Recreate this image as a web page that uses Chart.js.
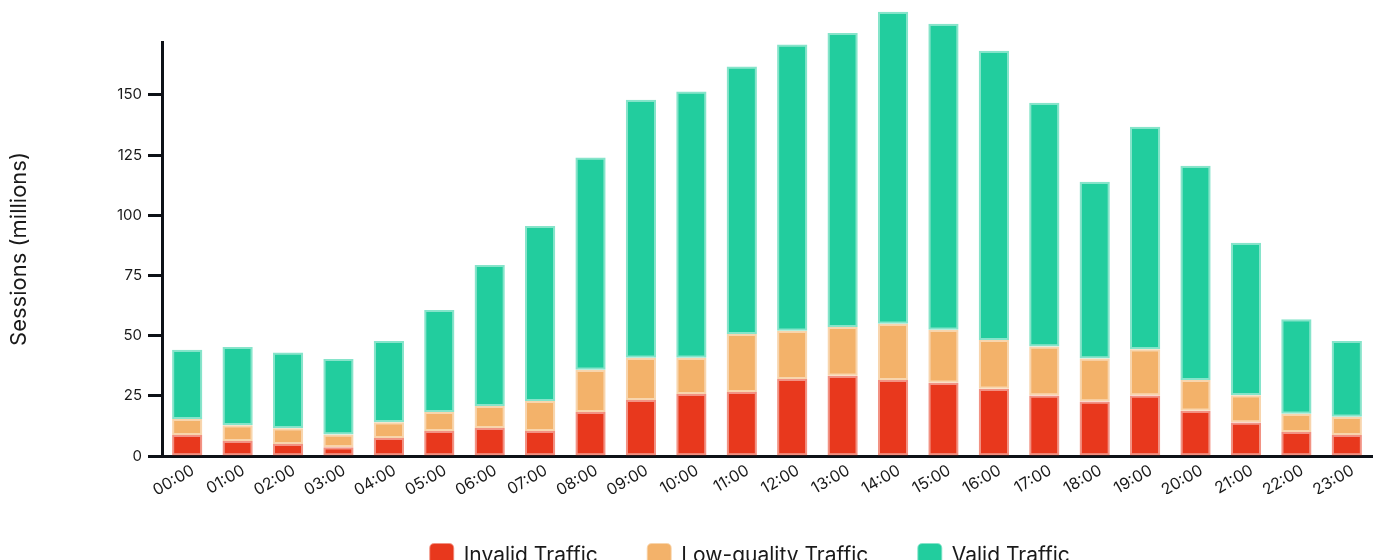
<!DOCTYPE html>
<html>
<head>
<meta charset="utf-8">
<script src="https://cdn.jsdelivr.net/npm/chart.js@4.4.1/dist/chart.umd.min.js"></script>
<style>
  html, body { margin: 0; padding: 0; background: #fff; overflow: hidden; }
  #wrap { position: relative; width: 1380px; height: 577px; }
</style>
</head>
<body>
<div id="wrap"><canvas id="chart"></canvas></div>
<script>
// hourly sessions, millions
const hours = ['00:00','01:00','02:00','03:00','04:00','05:00','06:00','07:00','08:00','09:00','10:00','11:00',
               '12:00','13:00','14:00','15:00','16:00','17:00','18:00','19:00','20:00','21:00','22:00','23:00'];
const invalidTraffic = [8.7, 6.2, 5.0, 3.6, 7.5, 10.4, 11.6, 10.4, 18.3, 23.3, 25.8, 26.6,
                        32.0, 33.3, 31.6, 30.4, 27.9, 25.1, 22.6, 25.1, 18.8, 13.9, 10.0, 8.7];
const lowQualityTraffic = [6.7, 6.6, 6.5, 5.3, 6.5, 7.9, 9.2, 12.5, 17.5, 17.5, 15.0, 24.1,
                           20.0, 20.3, 23.3, 22.0, 20.3, 20.4, 17.9, 19.3, 12.8, 11.3, 7.6, 7.6];
const validTraffic = [28.7, 32.5, 31.5, 31.4, 33.8, 42.4, 58.6, 72.7, 88.2, 107.2, 110.6, 111.1,
                      119.0, 122.1, 129.7, 127.2, 120.2, 101.3, 73.4, 92.4, 89.0, 63.4, 39.2, 31.5];

const AXIS = '#0d1117';
const FONT = 'Inter, "Noto Sans", sans-serif';

// nudge the legend a bit left, as in the original
const legendShift = {
  id: 'legendShift',
  afterLayout(chart) {
    chart.legend.left -= 34;
  }
};

function ds(label, data, rgb) {
  return {
    label: label,
    data: data,
    backgroundColor: 'rgb(' + rgb + ')',
    borderColor: 'rgba(' + rgb + ',0.55)',
    borderWidth: 2,
    borderSkipped: false,
    barPercentage: 0.6,
    categoryPercentage: 1,
    clip: false
  };
}

new Chart(document.getElementById('chart'), {
  type: 'bar',
  data: {
    labels: hours,
    datasets: [
      ds('Invalid Traffic', invalidTraffic, '232,56,29'),
      ds('Low-quality Traffic', lowQualityTraffic, '243,178,106'),
      ds('Valid Traffic', validTraffic, '34,205,158')
    ]
  },
  options: {
    responsive: true,
    maintainAspectRatio: false,
    animation: false,
    layout: { padding: { top: 42, left: 0, right: 8, bottom: 0 } },
    plugins: {
      tooltip: { enabled: false },
      legend: {
        position: 'bottom',
        fullSize: false,
        labels: {
          boxWidth: 23,
          boxHeight: 23,
          padding: 50,
          useBorderRadius: true,
          borderRadius: 4,
          color: '#1a1a1a',
          font: { family: FONT, size: 21 }
        }
      }
    },
    scales: {
      x: {
        stacked: true,
        grid: { display: false, drawTicks: false },
        border: { display: true, color: AXIS, width: 3 },
        ticks: {
          autoSkip: false,
          color: '#1a1a1a',
          font: { family: FONT, size: 16 },
          minRotation: 30,
          maxRotation: 30,
          labelOffset: 6,
          padding: 5
        },
        afterFit(scale) { scale.height = 38; }
      },
      y: {
        stacked: true,
        min: 0,
        max: 172,
        grid: {
          drawOnChartArea: false,
          drawTicks: true,
          tickLength: 14,
          tickWidth: 3,
          tickColor: AXIS
        },
        border: { display: true, color: AXIS, width: 3 },
        ticks: {
          stepSize: 25,
          includeBounds: false,
          color: '#1a1a1a',
          font: { family: FONT, size: 15 },
          padding: 6
        },
        title: {
          display: true,
          text: 'Sessions (millions)',
          color: '#1a1a1a',
          font: { family: FONT, size: 22 },
          padding: { top: 6, bottom: 0 }
        },
        afterFit(scale) { scale.width = 162; }
      }
    }
  },
  plugins: [legendShift]
});
</script>
</body>
</html>
